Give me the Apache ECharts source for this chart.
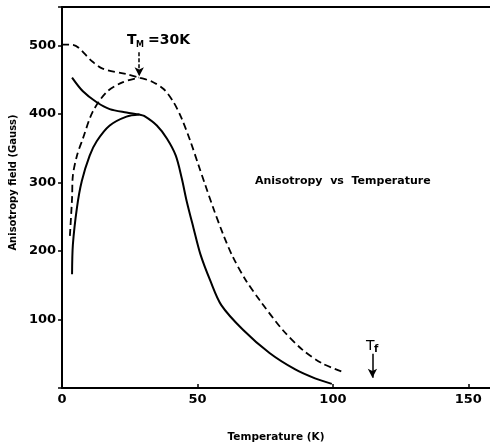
<!DOCTYPE html>
<html lang="en">
<head>
    <meta charset="UTF-8">
    <title>Anisotropy vs Temperature</title>
    <script src="https://cdn.jsdelivr.net/npm/echarts@6/dist/echarts.min.js"></script>
    <style>
        html, body {
            margin: 0;
            border: 0;
            background: #fff;
        }

        #chart {
            width: 490px;
            height: 448px;
        }
    </style>
</head>
<body>
<div id="chart"></div>
<script type="text/javascript">
    // upper dashed curve (starts at 500 G, joins the dome at T_M, then falls)
    const dashedUpperT = [0, 3.7, 11.3, 15, 23.8, 28.5, 33.3, 37.6, 41.2, 44.2, 47.4, 50.4, 52.9, 55.8, 59.5, 63.1, 67.9, 73, 81.4, 88.7, 96, 104];
    const dashedUpperH = [501, 501, 476, 466, 458, 453, 447, 436, 417, 393, 360, 325, 296, 263, 224, 191, 157, 128, 85, 56, 36, 23];
    // lower dashed dome
    const dashedDomeT = [2.9, 3.7, 4.0, 5.5, 7.7, 11.3, 16.5, 22.3, 28.5];
    const dashedDomeH = [222, 277, 310, 339, 364, 403, 432, 446, 453];
    // upper solid curve
    const solidUpperT = [3.7, 7.7, 12.8, 17.6, 23.8, 28.5, 30.3, 35, 38.7, 42, 44.2, 46, 48.5, 51.1, 54.7, 58.8, 66.8, 76.6, 86.1, 93.4, 99.6];
    const solidUpperH = [453, 433, 417, 407, 402, 399, 397, 383, 364, 339, 306, 273, 234, 195, 157, 121, 85, 51, 27, 14, 6];
    // lower solid dome
    const solidDomeT = [3.7, 4.0, 5.5, 7.3, 10.2, 12.8, 17.6, 23.8, 28.5];
    const solidDomeH = [166, 209, 263, 302, 339, 360, 383, 396, 399];

    const xTicks = [0, 50, 100, 150];
    const yTicks = [100, 200, 300, 400, 500];
    const tM = 28.5;
    const tF = 114.6;

    const pairs = (xs, ys) => xs.map((x, i) => [x, ys[i]]);
    const font = 'DejaVu Sans';

    function line(name, xs, ys, type) {
        return {
            name: name,
            type: 'line',
            data: pairs(xs, ys),
            smooth: 0.3,
            symbol: 'none',
            silent: true,
            animation: false,
            lineStyle: {
                color: '#000',
                width: type === 'solid' ? 2 : 1.8,
                type: type === 'solid' ? 'solid' : [7, 4]
            }
        };
    }

    window.onload = () => {
        const chart = echarts.init(document.querySelector('#chart'));
        const upper = line('dashed upper', dashedUpperT, dashedUpperH, 'dashed');
        upper.markLine = {
            silent: true,
            symbol: ['none', 'arrow'],
            symbolSize: [7, 9],
            label: {show: false},
            lineStyle: {color: '#000', width: 1.5, type: [4, 2]},
            data: [
                [{coord: [tM, 490]}, {coord: [tM, 455]}],
                [{coord: [tF, 50], lineStyle: {type: 'solid'}}, {coord: [tF, 15]}]
            ]
        };
        const option = {
            animation: false,
            backgroundColor: '#fff',
            grid: {left: 57, top: 7, right: 0, bottom: 56},
            xAxis: [{
                type: 'value',
                min: 0,
                max: 158,
                interval: 50,
                splitLine: {show: false},
                axisLine: {lineStyle: {color: '#000', width: 2}},
                axisTick: {inside: true, length: 4, lineStyle: {color: '#000', width: 1.5}},
                axisLabel: {
                    margin: 5,
                    color: '#000',
                    fontFamily: font,
                    fontWeight: 'bold',
                    fontSize: 13,
                    showMaxLabel: false,
                    formatter: v => xTicks.includes(v) ? String(v) : ''
                },
                name: 'Temperature (K)',
                nameLocation: 'middle',
                nameGap: 44,
                nameTextStyle: {color: '#000', fontFamily: font, fontWeight: 'bold', fontSize: 10.5}
            }, {
                type: 'value',
                position: 'top',
                min: 0,
                max: 158,
                axisLine: {lineStyle: {color: '#000', width: 2}},
                axisTick: {show: false},
                axisLabel: {show: false},
                splitLine: {show: false}
            }],
            yAxis: {
                type: 'value',
                min: 0,
                max: 556,
                interval: 100,
                splitLine: {show: false},
                axisLine: {show: true, lineStyle: {color: '#000', width: 2}},
                axisTick: {show: true, length: 4, lineStyle: {color: '#000', width: 1.5}},
                axisLabel: {
                    margin: 6,
                    color: '#000',
                    fontFamily: font,
                    fontWeight: 'bold',
                    fontSize: 13,
                    formatter: v => yTicks.includes(v) ? String(v) : ''
                },
                name: 'Anisotropy field (Gauss)',
                nameLocation: 'middle',
                nameGap: 40,
                nameTextStyle: {
                    color: '#000', fontFamily: font, fontWeight: 'bold', fontSize: 10,
                    padding: [0, 0, 0, 30]
                }
            },
            graphic: [
                {type: 'text', left: 127, top: 33, style: {text: 'T', fontFamily: font, fontWeight: 'bold', fontSize: 14, fill: '#000'}},
                {type: 'text', left: 136, top: 41, style: {text: 'M', fontFamily: font, fontWeight: 'bold', fontSize: 8, fill: '#000'}},
                {type: 'text', left: 148, top: 33, style: {text: '=30K', fontFamily: font, fontWeight: 'bold', fontSize: 14, fill: '#000'}},
                {type: 'text', left: 366, top: 339, style: {text: 'T', fontFamily: font, fontSize: 14, fill: '#000'}},
                {type: 'text', left: 374, top: 344, style: {text: 'f', fontFamily: font, fontWeight: 'bold', fontSize: 10, fill: '#000'}},
                {type: 'text', left: 255, top: 176, style: {text: 'Anisotropy  vs  Temperature', fontFamily: font, fontWeight: 'bold', fontSize: 11, fill: '#000'}}
            ],
            series: [
                upper,
                line('dashed dome', dashedDomeT, dashedDomeH, 'dashed'),
                line('solid upper', solidUpperT, solidUpperH, 'solid'),
                line('solid dome', solidDomeT, solidDomeH, 'solid')
            ]
        };
        chart.setOption(option, true);
    }
</script>
</body>
</html>
